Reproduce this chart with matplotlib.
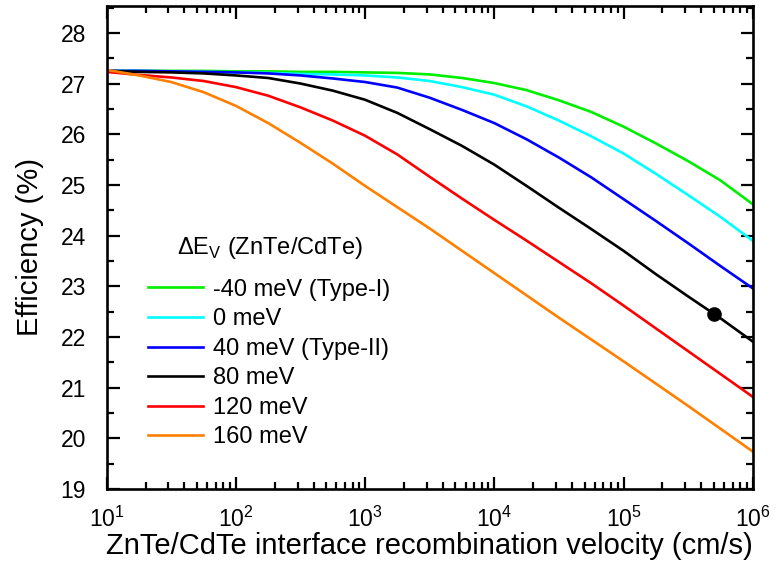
import matplotlib
matplotlib.use("Agg")
import matplotlib.pyplot as plt
import numpy as np

plt.rcParams['font.family'] = ['Liberation Sans', 'DejaVu Sans']
plt.rcParams['mathtext.fontset'] = 'custom'
plt.rcParams['mathtext.rm'] = 'Liberation Sans'

log_velocity = [1.0, 1.25, 1.5, 1.75, 2.0, 2.25, 2.5, 2.75, 3.0, 3.25, 3.5,
                3.75, 4.0, 4.25, 4.5, 4.75, 5.0, 5.25, 5.5, 5.75, 6.0]
eff_m40 = [27.25, 27.25, 27.25, 27.25, 27.24, 27.24, 27.23, 27.23, 27.22, 27.21, 27.18,
           27.11, 27.01, 26.87, 26.67, 26.44, 26.15, 25.82, 25.47, 25.09, 24.62]
eff_0 = [27.25, 27.25, 27.24, 27.23, 27.22, 27.21, 27.19, 27.18, 27.16, 27.12, 27.05,
         26.93, 26.78, 26.55, 26.27, 25.96, 25.62, 25.22, 24.80, 24.37, 23.90]
eff_40 = [27.25, 27.25, 27.24, 27.23, 27.22, 27.20, 27.16, 27.10, 27.03, 26.92, 26.72,
          26.48, 26.22, 25.90, 25.54, 25.15, 24.72, 24.29, 23.85, 23.40, 22.96]
eff_80 = [27.25, 27.23, 27.22, 27.20, 27.16, 27.11, 27.00, 26.86, 26.68, 26.42, 26.10,
          25.77, 25.40, 24.98, 24.55, 24.13, 23.70, 23.24, 22.80, 22.37, 21.91]
eff_120 = [27.23, 27.17, 27.12, 27.05, 26.93, 26.76, 26.53, 26.27, 25.97, 25.60, 25.16,
           24.73, 24.31, 23.90, 23.48, 23.06, 22.62, 22.17, 21.72, 21.27, 20.82]
eff_160 = [27.27, 27.16, 27.03, 26.83, 26.56, 26.22, 25.83, 25.42, 24.98, 24.56, 24.14,
           23.70, 23.26, 22.82, 22.38, 21.95, 21.52, 21.08, 20.64, 20.19, 19.74]

labels = ['-40 meV (Type-I)', '0 meV', '40 meV (Type-II)', '80 meV', '120 meV', '160 meV']
colors = ['#00ee00', '#00ffff', '#0000ff', '#000000', '#ff0000', '#ff8000']
series = [eff_m40, eff_0, eff_40, eff_80, eff_120, eff_160]
legend_title = r'$\Delta$E$_\mathrm{V}$ (ZnTe/CdTe)'

marker_x = [5e5]
marker_y = [22.45]

velocity = [10 ** v for v in log_velocity]

fig = plt.figure(figsize=(7.76, 5.78), dpi=100)
ax = fig.add_axes([106.7/776, 1-489/578, (752.7-106.7)/776, (489-6)/578])

for y, c, l in zip(series, colors, labels):
    ax.plot(velocity, y, color=c, lw=1.9, label=l)
ax.plot(marker_x, marker_y, 'o', color='black', ms=9.5)

ax.set_xscale('log')
ax.set_xlim(1e1, 1e6)
ax.set_ylim(19, 28.53)
ax.set_yticks(np.arange(19, 29, 1))
ax.set_yticks(np.arange(19.5, 28.6, 1), minor=True)
ax.set_xticks([1e1, 1e2, 1e3, 1e4, 1e5, 1e6])
ax.set_xticklabels([r'10$^{%d}$' % i for i in range(1, 7)])

ax.tick_params(which='both', direction='in', top=True, right=True, labelsize=16.5, width=1.6)
ax.tick_params(which='major', length=9)
ax.tick_params(which='minor', length=5)
ax.tick_params(axis='y', which='major', pad=15)
ax.tick_params(axis='x', which='major', pad=13)
for s in ax.spines.values():
    s.set_linewidth(1.9)

ax.set_xlabel('ZnTe/CdTe interface recombination velocity (cm/s)', fontsize=21, labelpad=0)
ax.set_ylabel('Efficiency (%)', fontsize=21, labelpad=12)

leg = ax.legend(loc='upper left', bbox_to_anchor=(0.05, 0.455), frameon=False, fontsize=17,
                handlelength=2.3, handletextpad=0.45, labelspacing=0.32, borderaxespad=0)
fig.text(270/776, 1-248/578, legend_title, fontsize=17, ha='center', va='center')

fig.savefig('out.png', dpi=100)
